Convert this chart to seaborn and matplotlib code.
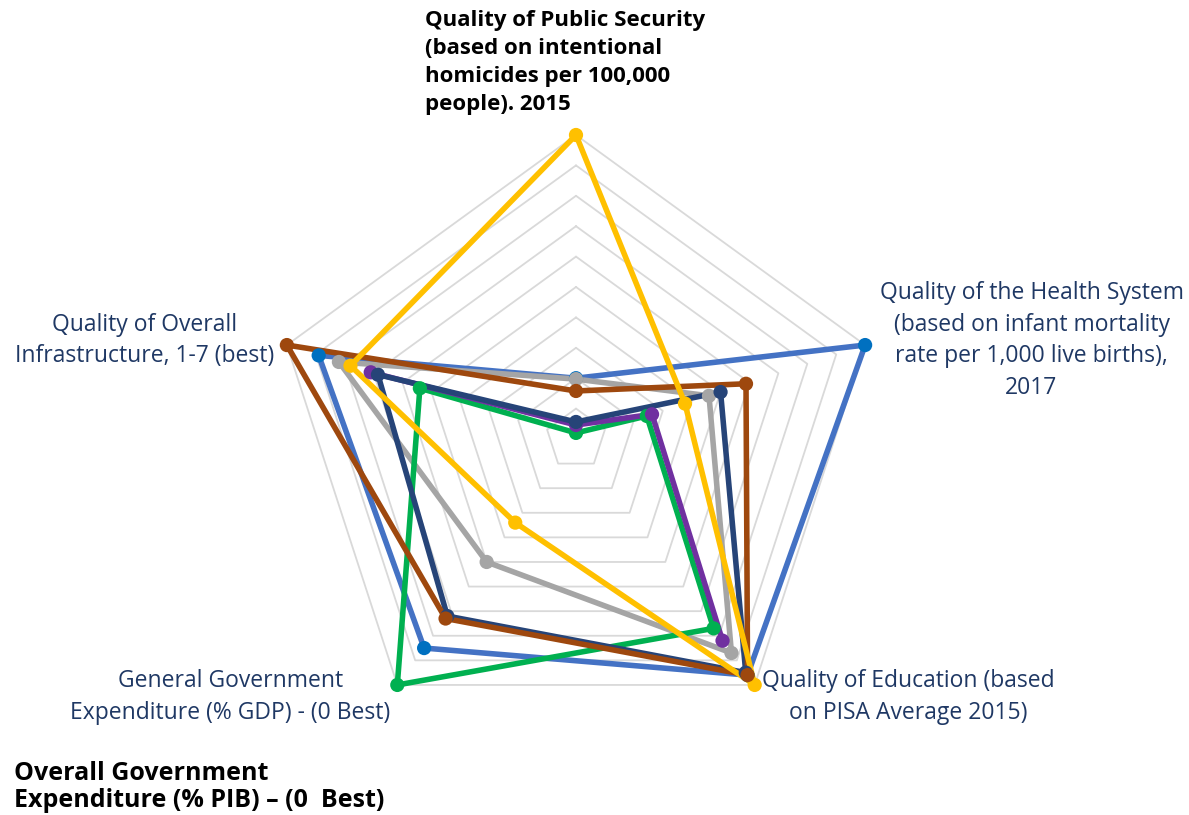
import numpy as np
import pandas as pd
import matplotlib
matplotlib.use("Agg")
import matplotlib.pyplot as plt
import seaborn as sns

# ---- data (scale 0-10, axes clockwise from top) ----
categories = [
    "Quality of Public Security\n(based on intentional\nhomicides per 100,000\npeople). 2015",
    "Quality of the Health System\n(based on infant mortality\nrate per 1,000 live births),\n2017",
    "Quality of Education (based\non PISA Average 2015)",
    "General Government\nExpenditure (% GDP) - (0 Best)",
    "Quality of Overall\nInfrastructure, 1-7 (best)",
]
series_names = ["Series 1", "Series 2", "Series 3", "Series 4", "Series 5", "Series 6", "Series 7"]
blue_vals = [2.0, 10.0, 9.6, 8.5, 8.9]
gray_vals = [1.97, 4.6, 8.7, 5.0, 8.2]
green_vals = [0.2, 2.45, 7.7, 10.0, 5.4]
purple_vals = [0.46, 2.63, 8.2, np.nan, 7.1]
navy_vals = [0.56, 5.0, 9.5, 7.2, 6.85]
brown_vals = [1.58, 5.88, 9.6, 7.3, 10.0]
yellow_vals = [10.0, 3.77, 10.0, 3.4, 7.8]
all_vals = [blue_vals, gray_vals, green_vals, purple_vals, navy_vals, brown_vals, yellow_vals]
note_text = "Overall Government\nExpenditure (% PIB) – (0  Best)"

line_colors = ["#4472C4", "#A5A5A5", "#00B050", "#7030A0", "#264478", "#9E480E", "#FFC000"]
marker_colors = ["#0070C0", "#A5A5A5", "#00B050", "#7030A0", "#264478", "#9E480E", "#FFC000"]

sns.set_theme(style="white")
plt.rcParams["font.family"] = ["Open Sans", "DejaVu Sans"]

W, H = 1189, 815
fig = plt.figure(figsize=(W / 100, H / 100), dpi=100)
cx, cy, R = 576, 439, 304
ax = fig.add_axes([(cx - R) / W, 1 - (cy + R) / H, 2 * R / W, 2 * R / H], projection="polar")
ax.set_theta_zero_location("N")
ax.set_theta_direction(-1)
ax.grid(False)
ax.spines["polar"].set_visible(False)
ax.set_facecolor("none")

n = len(categories)
theta = np.arange(n) * 2 * np.pi / n

# pentagon grid
theta_closed = np.append(theta, theta[0] + 2 * np.pi)
for k in range(1, 11):
    ax.plot(theta_closed, [k] * (n + 1), color="#D9D9D9", lw=1.3, zorder=1)

# build long dataframe
rows = []
for name, vals in zip(series_names, all_vals):
    for i, v in enumerate(vals):
        rows.append({"series": name, "idx": i, "theta": theta[i], "value": v})
df = pd.DataFrame(rows)

# lines (closed, broken at missing values)
for j, name in enumerate(series_names):
    sub = df[df.series == name].sort_values("idx")
    t = list(sub.theta) + [sub.theta.iloc[0] + 2 * np.pi]
    v = list(sub.value) + [sub.value.iloc[0]]
    seg_t, seg_v = [], []
    segs = []
    for tt, vv in zip(t, v):
        if np.isnan(vv):
            if len(seg_t) > 1:
                segs.append((seg_t, seg_v))
            seg_t, seg_v = [], []
        else:
            seg_t.append(tt)
            seg_v.append(vv)
    if len(seg_t) > 1:
        segs.append((seg_t, seg_v))
    for st, sv in segs:
        sd = pd.DataFrame({"theta": st, "value": sv})
        sns.lineplot(data=sd, x="theta", y="value", sort=False, estimator=None,
                     color=line_colors[j], lw=4.0, ax=ax, zorder=3 + j,
                     solid_joinstyle="round", solid_capstyle="round")

# markers
marker_order = [0, 1, 2, 3, 4, 6, 5]
for z, j in enumerate(marker_order):
    sub = df[(df.series == series_names[j]) & df.value.notna()]
    sns.scatterplot(data=sub, x="theta", y="value", color=marker_colors[j], s=105,
                    edgecolor="none", ax=ax, zorder=20 + z, legend=False)

for art in list(ax.lines) + list(ax.collections):
    art.set_clip_on(False)

ax.set_xlabel("")
ax.set_ylabel("")
ax.set_ylim(0, 10)
ax.set_xticks([])
ax.set_yticks([])

def fx(x):
    return x / W

def fy(y):
    return 1 - y / H

lab_col = "#1F3864"
fig.text(fx(425), fy(62.5), categories[0], ha="left", va="center", fontsize=16,
         fontweight="bold", color="black", linespacing=1.43)
fig.text(fx(1031.5), fy(340.5), categories[1], ha="center", va="center", fontsize=16.5,
         color=lab_col, linespacing=1.41, multialignment="center")
fig.text(fx(908), fy(697), categories[2], ha="center", va="center", fontsize=16.5,
         color=lab_col, linespacing=1.41, multialignment="center")
fig.text(fx(230.5), fy(697), categories[3], ha="center", va="center", fontsize=16.5,
         color=lab_col, linespacing=1.41, multialignment="center")
fig.text(fx(145), fy(340.5), categories[4], ha="center", va="center", fontsize=16.5,
         color=lab_col, linespacing=1.41, multialignment="center")
fig.text(fx(14), fy(787), note_text, ha="left", va="center", fontsize=18,
         fontweight="bold", color="black", linespacing=1.12)

fig.savefig("out.png", dpi=100, facecolor="white")
